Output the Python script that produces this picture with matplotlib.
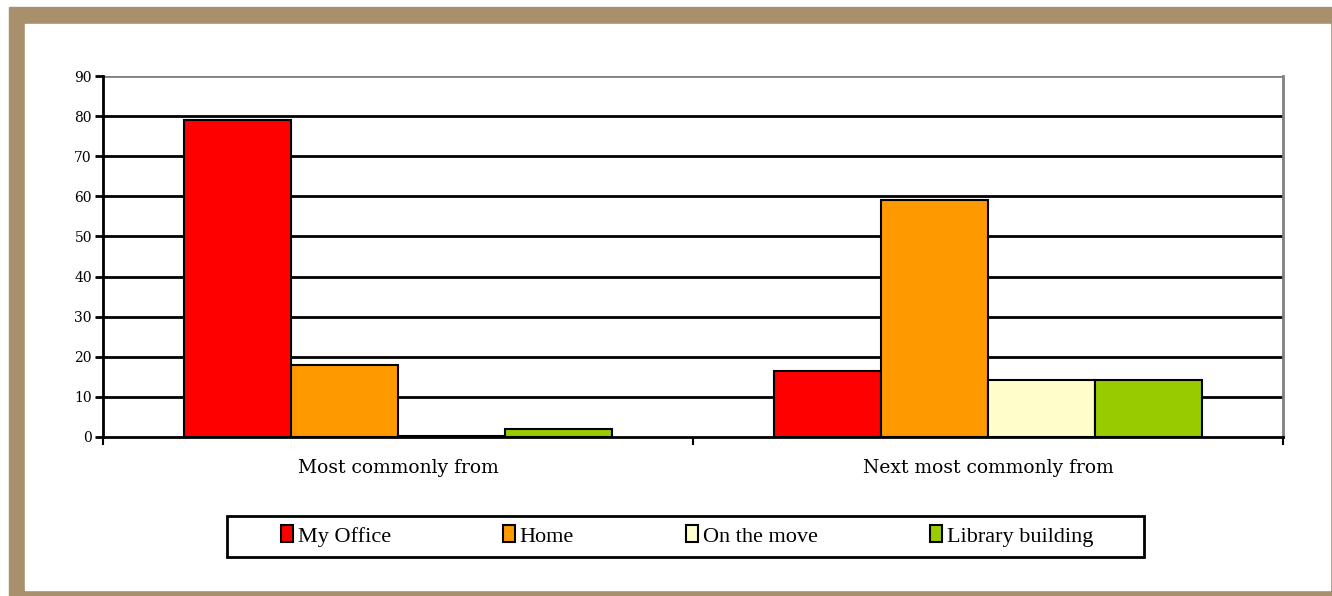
import matplotlib.pyplot as plt
import numpy as np
from matplotlib.patches import Rectangle

# Survey: where people access the service from
categories = ['Most commonly from', 'Next most commonly from']
series = ['My Office', 'Home', 'On the move', 'Library building']
my_office = [79, 16.5]
home = [18, 59]
on_the_move = [0.3, 14.2]
library = [2, 14.2]
colors = ['#FF0000', '#FF9900', '#FFFFCC', '#99CC00']
yticks = list(range(0, 91, 10))

W, H = 1332, 596
fig = plt.figure(figsize=(W / 100, H / 100), dpi=100)

# Brown frame around the chart
fig.patches.append(Rectangle((9 / W, 0), (W - 9) / W, (H - 7) / H,
                             transform=fig.transFigure, color='#A8906C', zorder=-2))
fig.patches.append(Rectangle((25 / W, 6 / H), (1330 - 25) / W, (590 - 24) / H,
                             transform=fig.transFigure, color='white', zorder=-1))

ax = fig.add_axes([103 / W, (H - 437) / H, 1180 / W, 361 / H])
ax.set_facecolor('none')

x = np.arange(len(categories))
width = 0.727 / 4
values = [my_office, home, on_the_move, library]
for i, (name, vals, c) in enumerate(zip(series, values, colors)):
    ax.bar(x + (i - 1.5) * width, vals, width, color=c, edgecolor='black',
           linewidth=1.5, label=name, zorder=3)

ax.set_xlim(-0.5, 1.5)
ax.set_ylim(0, 90)
ax.set_yticks(yticks)
ax.set_yticklabels([str(v) for v in yticks], fontfamily='DejaVu Serif',
                   fontsize=10)
for y in yticks[1:-1]:
    ax.axhline(y, color='black', lw=2, zorder=1)
ax.axhline(yticks[-1], color='#808080', lw=2, zorder=1)

ax.spines['top'].set_visible(False)
ax.spines['right'].set_color('#808080')
ax.spines['right'].set_linewidth(2)
ax.spines['left'].set_linewidth(2)
ax.spines['bottom'].set_linewidth(2)
ax.spines['bottom'].set_zorder(4)

ax.tick_params(axis='y', direction='out', length=6, width=2, pad=2)

# Category ticks sit between the groups
ax.set_xticks([-0.5, 0.5, 1.5])
ax.set_xticklabels([])
ax.tick_params(axis='x', direction='out', length=6, width=1.5)
for xi, name in zip(x, categories):
    ax.text(xi, -7.8, name, ha='center', va='center', fontsize=13.5,
            family='DejaVu Serif', transform=ax.transData)

# Legend box below the plot
fig.patches.append(Rectangle((227 / W, 1 - 557 / H), (1144 - 227) / W, 41 / H,
                             transform=fig.transFigure, facecolor='white',
                             edgecolor='black', lw=2, zorder=1))
leg = fig.legend(loc='center', bbox_to_anchor=((281 + 1093) / 2 / W, 1 - 536 / H),
                 ncol=4, frameon=False,
                 prop={'family': 'Liberation Serif', 'size': 16},
                 handlelength=0.55, handleheight=0.8, handletextpad=0.2,
                 columnspacing=5.05)
leg.set_zorder(2)

fig.savefig('out.png', dpi=100)
